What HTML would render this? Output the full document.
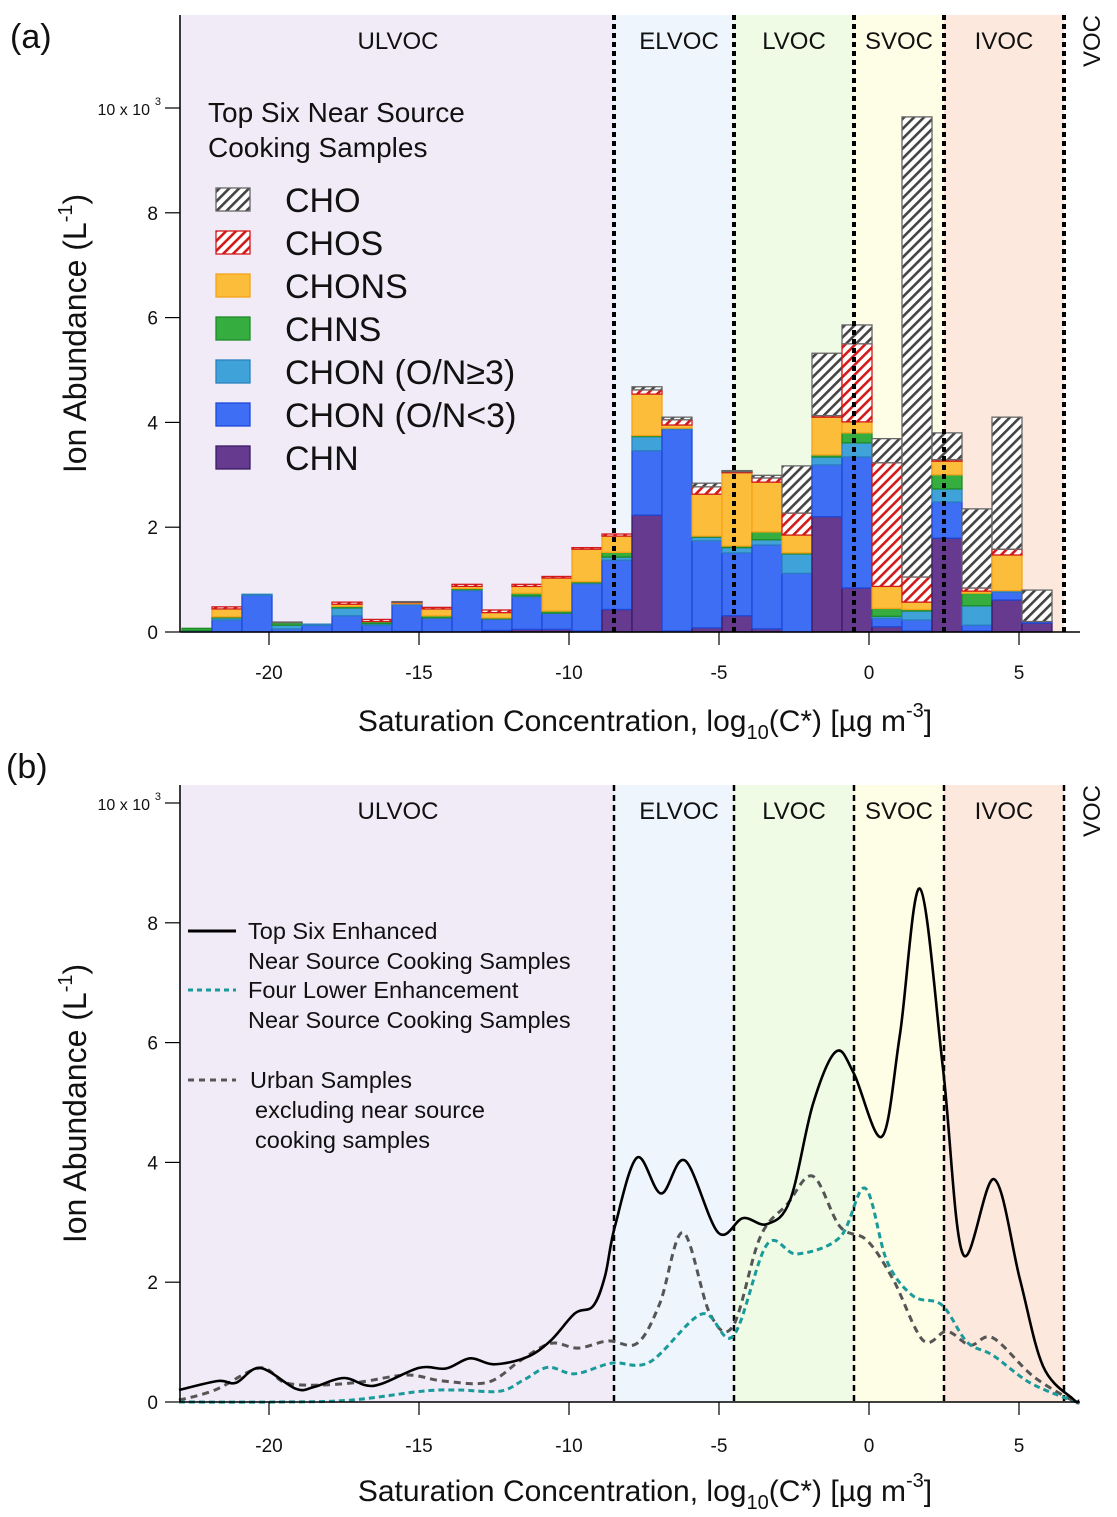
<!DOCTYPE html>
<html><head><meta charset="utf-8"><style>
html,body{margin:0;padding:0;background:#fff;}
svg{display:block;font-family:"Liberation Sans",Arial,sans-serif;}
</style></head>
<body>
<svg id="fig" width="1117" height="1517" viewBox="0 0 1117 1517" xmlns="http://www.w3.org/2000/svg">
<defs>
<pattern id="hatchCHO" patternUnits="userSpaceOnUse" width="7" height="7" patternTransform="rotate(45)">
<rect width="7" height="7" fill="#fff"/><rect x="0" y="0" width="2.6" height="7" fill="#444"/></pattern>
<pattern id="hatchCHOS" patternUnits="userSpaceOnUse" width="7" height="7" patternTransform="rotate(45)">
<rect width="7" height="7" fill="#fff"/><rect x="0" y="0" width="2.6" height="7" fill="#d21a1a"/></pattern>
</defs>
<g id="pa"></g>
<g id="pb"></g>
</svg>
<script>
// ---------- shared data ----------
const bandNames = ["ULVOC","ELVOC","LVOC","SVOC","IVOC","VOC"];
const bandEdges = [-23.0,-8.5,-4.5,-0.5,2.5,6.5,7.0];
const bandColors = ["#f0ebf7","#eef5fd","#effbe5","#fefde5","#fde8dd","#ffffff"];
const xTicks = [-20,-15,-10,-5,0,5];
const yTicks = [0,2,4,6,8,10];
const yTickLabels = ["0","2","4","6","8","10 x 10"];

// ---------- panel (a) data ----------
const binStart = [-22.9,-21.9,-20.9,-19.9,-18.9,-17.9,-16.9,-15.9,-14.9,-13.9,-12.9,-11.9,-10.9,-9.9,-8.9,-7.9,-6.9,-5.9,-4.9,-3.9,-2.9,-1.9,-0.9,0.1,1.1,2.1,3.1,4.1,5.1];
const seriesNames = ["CHN","CHON (O/N<3)","CHON (O/N≥3)","CHNS","CHONS","CHOS","CHO"];
const CHN     = [0,0,0,0,0,0,0,0.01,0,0,0.03,0.05,0.05,0.02,0.43,2.23,0.02,0.08,0.31,0.06,0,2.2,0.84,0.1,0.02,1.79,0.02,0.61,0.17];
const CHONlt3 = [0.02,0.23,0.7,0.06,0.13,0.31,0.13,0.51,0.27,0.79,0.22,0.62,0.31,0.9,0.94,1.23,3.85,1.66,1.2,1.6,1.12,0.99,2.5,0.16,0.21,0.69,0.11,0.15,0.03];
const CHONge3 = [0.01,0.04,0.02,0.07,0.02,0.15,0.03,0.02,0,0.02,0,0.02,0,0.02,0.06,0.27,0.02,0.07,0.1,0.1,0.37,0.15,0.27,0.04,0.17,0.25,0.37,0.03,0];
const CHNS    = [0.04,0.02,0,0.05,0,0.03,0.04,0,0.04,0.02,0.02,0.05,0.04,0.02,0.09,0.02,0,0.02,0.03,0.15,0.02,0.04,0.19,0.15,0.03,0.27,0.24,0,0];
const CHONS   = [0,0.15,0,0,0,0.04,0,0.02,0.13,0.04,0.1,0.13,0.63,0.62,0.31,0.79,0.06,0.8,1.4,0.95,0.34,0.72,0.21,0.42,0.14,0.26,0.04,0.68,0];
const CHOS    = [0,0.04,0,0,0,0.04,0.04,0.01,0.03,0.04,0.05,0.04,0.03,0.03,0.04,0.08,0.1,0.14,0.02,0.08,0.42,0.03,1.49,2.36,0.48,0.03,0.06,0.11,0];
const CHO     = [0,0,0,0.01,0,0,0,0.01,0,0,0,0,0,0,0,0.06,0.05,0.07,0.02,0.05,0.9,1.19,0.36,0.46,8.78,0.51,1.51,2.52,0.6];

// ---------- panel (b) data ----------
const topX = [-23,-21.7,-21.1,-20.3,-19.1,-18.5,-17.5,-16.5,-15.0,-14.1,-13.3,-12.5,-11.4,-10.6,-9.8,-9.2,-8.8,-8.47,-7.73,-6.93,-6.13,-5.03,-4.2,-3.4,-2.63,-1.87,-1.1,-0.5,0.43,1.03,1.7,2.47,3.13,4.17,5.03,5.8,6.8,7.0];
const topY = [0.2,0.35,0.32,0.57,0.22,0.25,0.4,0.27,0.57,0.56,0.73,0.63,0.75,1.03,1.48,1.6,2.1,2.93,4.08,3.48,4.03,2.83,3.07,2.97,3.37,4.97,5.85,5.48,4.43,6.13,8.57,5.55,2.47,3.72,2.05,0.6,0.05,0.02];
const lowX = [-23,-19.7,-17.3,-14.9,-13.7,-12.3,-11.5,-10.7,-9.8,-8.57,-7.3,-5.57,-4.53,-3.4,-2.4,-0.97,-0.13,0.6,1.47,2.43,3.27,4.13,5.37,6.8,7.0];
const lowY = [0.0,0.0,0.03,0.18,0.2,0.18,0.37,0.58,0.47,0.65,0.67,1.47,1.1,2.63,2.47,2.75,3.57,2.35,1.77,1.62,1.0,0.78,0.32,0.02,0.0];
const urbX = [-23,-21.8,-20.3,-19.5,-18.5,-17.0,-15.4,-14.2,-12.7,-11.6,-10.6,-9.7,-8.7,-7.73,-6.97,-6.2,-5.3,-4.53,-3.63,-2.73,-1.87,-0.97,-0.07,0.8,1.8,2.6,3.37,4.13,5.47,6.8,7.0];
const urbY = [0.03,0.2,0.57,0.33,0.28,0.33,0.45,0.35,0.33,0.7,0.98,0.9,1.02,0.98,1.65,2.83,1.47,1.27,2.75,3.3,3.77,2.93,2.7,2.05,1.03,1.18,0.95,1.07,0.43,0.02,0.0];

const NS = "http://www.w3.org/2000/svg";
function mk(parent, tag, attrs, text){
  const e = document.createElementNS(NS, tag);
  for (const k in attrs) e.setAttribute(k, attrs[k]);
  if (text !== undefined) e.textContent = text;
  parent.appendChild(e);
  return e;
}
const X0 = 180, X1 = 1080;
function xs(v){ return 869 + v*30; }

function smoothPath(px, py){
  let d = "M" + px[0].toFixed(1) + "," + py[0].toFixed(1);
  for (let i=0;i<px.length-1;i++){
    const p0x = px[Math.max(i-1,0)], p0y = py[Math.max(i-1,0)];
    const p3x = px[Math.min(i+2,px.length-1)], p3y = py[Math.min(i+2,px.length-1)];
    const c1x = px[i] + (px[i+1]-p0x)/6, c1y = py[i] + (py[i+1]-p0y)/6;
    const c2x = px[i+1] - (p3x-px[i])/6, c2y = py[i+1] - (p3y-py[i])/6;
    d += " C"+c1x.toFixed(1)+","+c1y.toFixed(1)+" "+c2x.toFixed(1)+","+c2y.toFixed(1)+" "+px[i+1].toFixed(1)+","+py[i+1].toFixed(1);
  }
  return d;
}

function drawFrame(g, top, y0, pxPerUnit, dashW, dashArr){
  const ys = v => y0 - v*pxPerUnit;
  for (let i=0;i<bandNames.length;i++){
    const r = mk(g,"rect",{x:xs(bandEdges[i]),y:top,width:xs(bandEdges[i+1])-xs(bandEdges[i]),height:y0-top,fill:bandColors[i]});
    
    
  }
  const labX = [398,679,794,899,1004];
  for (let i=0;i<5;i++){
    const t = mk(g,"text",{x:labX[i],y:top+34,"font-size":24,"text-anchor":"middle",fill:"#111"},bandNames[i]);
    
    
  }
  const v = mk(g,"text",{x:0,y:0,"font-size":24,"text-anchor":"middle",fill:"#111",transform:"translate(1100,"+(top+26)+") rotate(-90)"},"VOC");
  
  
  for (let i=1;i<=5;i++){
    const l = mk(g,"line",{x1:xs(bandEdges[i]),x2:xs(bandEdges[i]),y1:top,y2:y0,stroke:"#000","stroke-width":dashW,"stroke-dasharray":dashArr});
    
    
  }
  return ys;
}

function drawAxes(g, top, y0, pxPerUnit, xLabelY, xTitleY){
  const ys = v => y0 - v*pxPerUnit;
  const ax = mk(g,"line",{x1:X0,x2:X0,y1:top,y2:y0,stroke:"#000","stroke-width":1.5});
  
  
  const bx = mk(g,"line",{x1:X0,x2:X1,y1:y0,y2:y0,stroke:"#000","stroke-width":1.5});
  
  
  yTicks.forEach((t,i)=>{
    const tk = mk(g,"line",{x1:X0-15,x2:X0,y1:ys(t),y2:ys(t),stroke:"#000","stroke-width":1.2});
    
    
    const lab = mk(g,"text",{x:X0-22,y:ys(t)+7,"font-size":i===5?16:19,"text-anchor":"end",fill:"#111"},yTickLabels[i]);
    
    
    if (i===5){
      const sup = mk(g,"text",{x:X0-19,y:ys(t)-3,"font-size":11,"text-anchor":"end",fill:"#111"},"3");
      
      
      lab.setAttribute('x', X0-30);
    }
  });
  xTicks.forEach(t=>{
    const tk = mk(g,"line",{x1:xs(t),x2:xs(t),y1:y0,y2:y0+13,stroke:"#000","stroke-width":1.2});
    
    
    const lab = mk(g,"text",{x:xs(t),y:xLabelY,"font-size":19,"text-anchor":"middle",fill:"#111"},String(t));
    
    
  });
  const xt = mk(g,"text",{x:645,y:xTitleY,"font-size":30,"text-anchor":"middle",fill:"#111"});
  
  
  mk(xt,"tspan",{},"Saturation Concentration, log");
  mk(xt,"tspan",{"font-size":20,dy:8},"10");
  mk(xt,"tspan",{dy:-8},"(C*) [µg m");
  mk(xt,"tspan",{"font-size":20,dy:-14},"-3");
  mk(xt,"tspan",{dy:14},"]");
  const cy = (top+y0)/2 + 10;
  const yt = mk(g,"text",{x:0,y:0,"font-size":32,"text-anchor":"middle",fill:"#111",transform:"translate(86,"+cy+") rotate(-90)"});
  
  
  mk(yt,"tspan",{},"Ion Abundance (L");
  mk(yt,"tspan",{"font-size":20,dy:-14},"-1");
  mk(yt,"tspan",{dy:14},")");
}

// ---------- Panel (a) ----------
(function(){
  const g = document.getElementById('pa');
  const top = 15, y0 = 632, ppu = 52.4;
  const ys = drawFrame(g, top, y0, ppu, 4, "5 4");
  const seriesVals = [CHN,CHONlt3,CHONge3,CHNS,CHONS,CHOS,CHO];
  const fills = ["#663a8e","#3e6ef4","#3fa3da","#36ad3f","#fcbd3b","url(#hatchCHOS)","url(#hatchCHO)"];
  const strokes = ["#3a1d66","#1f48d8","#2b7fbf","#1f8a28","#f5a31a","#d21a1a","#666"];
  const keys = ["chn","chon-lt3","chon-ge3","chns","chons","chos","cho"];
  const bars = mk(g,"g",{});
  
  
  binStart.forEach((b,i)=>{
    let cum = 0;
    for (let s=0;s<seriesVals.length;s++){
      const v = seriesVals[s][i];
      if (v<=0) continue;
      const yTop = ys(cum+v), yBot = ys(cum);
      const r = mk(bars,"rect",{x:xs(b),y:yTop,width:xs(b+1)-xs(b),height:yBot-yTop,fill:fills[s],stroke:strokes[s],"stroke-width":1.3});
      
      
      cum += v;
    }
  });
  for (let i=1;i<=5;i++){
    const l = mk(g,"line",{x1:xs(bandEdges[i]),x2:xs(bandEdges[i]),y1:top,y2:y0,stroke:"#000","stroke-width":4,"stroke-dasharray":"5 4"});
    
    
  }
  drawAxes(g, top, y0, ppu, 679, 731);
  const pl = mk(g,"text",{x:10,y:48,"font-size":34,fill:"#111"},"(a)");
  
  
  const lg = mk(g,"g",{});
  
  
  const t1 = mk(lg,"text",{x:208,y:122,"font-size":28,fill:"#111"},"Top Six Near Source");
  
  
  const t2 = mk(lg,"text",{x:208,y:157,"font-size":28,fill:"#111"},"Cooking Samples");
  
  
  const order = [6,5,4,3,2,1,0];
  order.forEach((s,j)=>{
    const cy = 200 + j*43;
    const sw = mk(lg,"rect",{x:216,y:cy-12,width:34,height:23,fill:fills[s],stroke:strokes[s],"stroke-width":1.3});
    
    
    const tx = mk(lg,"text",{x:285,y:cy+12,"font-size":34,fill:"#111"},seriesNames[s]);
    
    
  });
})();

// ---------- Panel (b) ----------
(function(){
  const g = document.getElementById('pb');
  const top = 785, y0 = 1402, ppu = 59.9;
  const ys = drawFrame(g, top, y0, ppu, 2.5, "6 4");
  const mkLine = (X,Y,color,w,dash,name)=>{
    const p = mk(g,"path",{d:smoothPath(X.map(xs),Y.map(ys)),fill:"none",stroke:color,"stroke-width":w});
    if (dash) p.setAttribute('stroke-dasharray', dash);
    
    
  };
  mkLine(urbX,urbY,"#555",3,"7 5","line-urban-samples");
  mkLine(lowX,lowY,"#1a9a9a",3,"6 4","line-four-lower-enhancement");
  mkLine(topX,topY,"#000",2.6,null,"line-top-six-enhanced");
  drawAxes(g, top, y0, ppu, 1452, 1501);
  const pl = mk(g,"text",{x:6,y:778,"font-size":34,fill:"#111"},"(b)");
  
  
  const lg = mk(g,"g",{});
  
  
  const items = [
    {y:931, color:"#000", dash:null, lines:["Top Six Enhanced","Near Source Cooking Samples"], tx:[248,248], name:"top-six"},
    {y:990, color:"#1a9a9a", dash:"5 4", lines:["Four Lower Enhancement","Near Source Cooking Samples"], tx:[248,248], name:"four-lower"},
    {y:1080, color:"#555", dash:"6 5", lines:["Urban Samples","excluding near source","cooking samples"], tx:[250,255,255], name:"urban"}
  ];
  items.forEach(it=>{
    const l = mk(lg,"line",{x1:188,x2:236,y1:it.y,y2:it.y,stroke:it.color,"stroke-width":3});
    if (it.dash) l.setAttribute('stroke-dasharray', it.dash);
    
    
    it.lines.forEach((s,k)=>{
      const t = mk(lg,"text",{x:it.tx[k],y:it.y+8+k*30,"font-size":23.5,fill:"#111"},s);
      
      
    });
  });
})();
</script>
</body></html>
